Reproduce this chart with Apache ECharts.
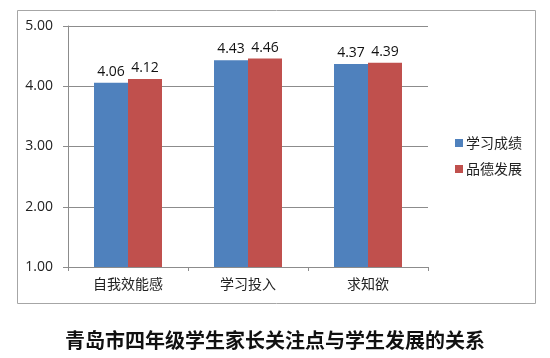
<!DOCTYPE html>
<html>
<head>
<meta charset="utf-8">
<script src="https://cdn.jsdelivr.net/npm/echarts@6/dist/echarts.min.js"></script>
<style>html,body{margin:0;padding:0;background:#fff;}#c{width:550px;height:358px;}</style>
</head>
<body>
<div id="c"></div>
<script>
var categories = ['自我效能感', '学习投入', '求知欲'];
var seriesNames = ['学习成绩', '品德发展'];
var academic = [4.06, 4.43, 4.37];
var moral = [4.12, 4.46, 4.39];
var titleText = '青岛市四年级学生家长关注点与学生发展的关系';

var font = '"Open Sans", "Noto Sans CJK SC", sans-serif';
var chart = echarts.init(document.getElementById('c'), null, {renderer: 'canvas'});
chart.setOption({
  animation: false,
  backgroundColor: '#fff',
  title: {
    text: titleText,
    left: 'center',
    top: 325,
    textStyle: {fontSize: 20, fontWeight: 'bold', color: '#111', fontFamily: '"Noto Sans CJK SC", sans-serif'}
  },
  graphic: [{
    type: 'rect',
    shape: {x: 17.5, y: 10.5, width: 518, height: 293},
    style: {fill: 'none', stroke: '#a6a6a6', lineWidth: 1},
    silent: true
  }],
  legend: {
    orient: 'vertical',
    left: 450,
    top: 131,
    itemWidth: 8,
    itemHeight: 8,
    itemGap: 12,
    icon: 'rect',
    textStyle: {fontSize: 14, color: '#222', fontFamily: '"Noto Sans CJK SC", sans-serif', padding: [0,0,0,-2]},
    data: seriesNames
  },
  grid: {left: 68, right: 122, top: 26, bottom: 91, containLabel: false},
  xAxis: {
    type: 'category',
    data: categories,
    axisLine: {lineStyle: {color: '#8c8c8c'}},
    axisTick: {show: true, length: 4, lineStyle: {color: '#8c8c8c'}},
    axisLabel: {fontSize: 14, color: '#222', margin: 10, fontFamily: '"Noto Sans CJK SC", sans-serif'}
  },
  yAxis: {
    type: 'value',
    min: 1, max: 5, interval: 1,
    axisLine: {show: true, lineStyle: {color: '#8c8c8c'}},
    axisTick: {show: true, length: 5, lineStyle: {color: '#8c8c8c'}},
    splitLine: {lineStyle: {color: '#8c8c8c'}},
    axisLabel: {fontSize: 14, color: '#222', margin: 15, fontFamily: font,
      formatter: function (v) { return v.toFixed(2); }}
  },
  series: [{
    name: seriesNames[0], type: 'bar', data: academic, barWidth: 34, barGap: '0%',
    itemStyle: {color: '#4F81BD'},
    label: {show: true, position: 'top', distance: 4, fontSize: 14, color: '#111', fontFamily: font,
      formatter: function (p) { return p.value.toFixed(2); }}
  }, {
    name: seriesNames[1], type: 'bar', data: moral, barWidth: 34, barGap: '0%',
    itemStyle: {color: '#C0504D'},
    label: {show: true, position: 'top', distance: 4, fontSize: 14, color: '#111', fontFamily: font,
      formatter: function (p) { return p.value.toFixed(2); }}
  }]
});
</script>
</body>
</html>
